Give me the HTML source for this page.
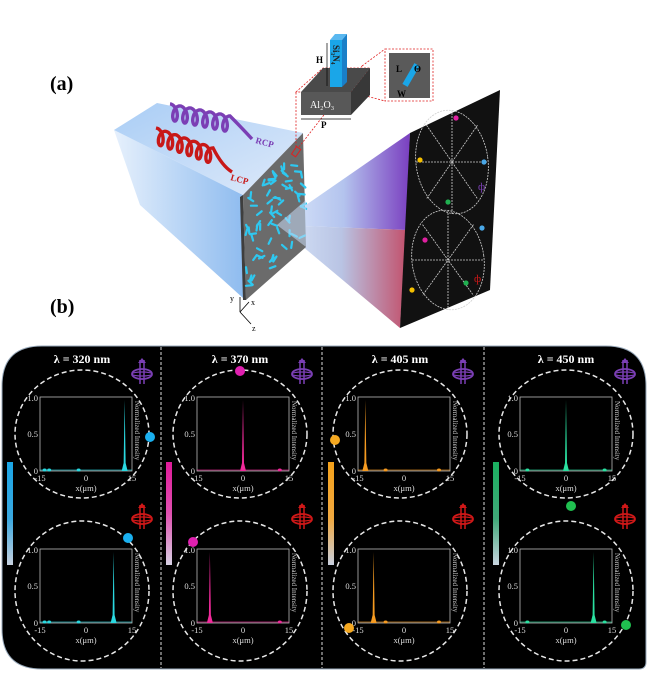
<!DOCTYPE html>
<html><head><meta charset="utf-8">
<style>
html,body{margin:0;padding:0;background:#fff;}
svg{display:block;font-family:"Liberation Serif",serif;}
</style></head>
<body>
<svg id="s" width="647" height="676" viewBox="0 0 647 676" xmlns="http://www.w3.org/2000/svg">
<defs>
<linearGradient id="blueL" x1="0" y1="0" x2="1" y2="0">
 <stop offset="0" stop-color="#e6f0fc"/><stop offset="1" stop-color="#8fbcef"/>
</linearGradient>
<linearGradient id="blueT" x1="0" y1="0" x2="1" y2="1">
 <stop offset="0" stop-color="#a9cdf5"/><stop offset="1" stop-color="#dfeafa"/>
</linearGradient>
<linearGradient id="beamT" x1="0" y1="0" x2="1" y2="0">
 <stop offset="0" stop-color="#dbe8fb"/><stop offset="0.5" stop-color="#b4c4ee"/><stop offset="1" stop-color="#7a3fc0"/>
</linearGradient>
<linearGradient id="beamB" x1="0" y1="0" x2="1" y2="0">
 <stop offset="0" stop-color="#d8e6fa"/><stop offset="0.5" stop-color="#b9c4e4"/><stop offset="1" stop-color="#c2536e"/>
</linearGradient>
<linearGradient id="bar1" x1="0" y1="0" x2="0" y2="1"><stop offset="0" stop-color="#1aa6e6"/><stop offset="0.55" stop-color="#3aa8e0"/><stop offset="1" stop-color="#c8d2e0"/></linearGradient>
<linearGradient id="bar2" x1="0" y1="0" x2="0" y2="1"><stop offset="0" stop-color="#e01a9a"/><stop offset="0.5" stop-color="#e050b0"/><stop offset="1" stop-color="#d8d2e4"/></linearGradient>
<linearGradient id="bar3" x1="0" y1="0" x2="0" y2="1"><stop offset="0" stop-color="#f5a21a"/><stop offset="0.55" stop-color="#f0a840"/><stop offset="1" stop-color="#c8d0e0"/></linearGradient>
<linearGradient id="bar4" x1="0" y1="0" x2="0" y2="1"><stop offset="0" stop-color="#1ab060"/><stop offset="0.55" stop-color="#40a878"/><stop offset="1" stop-color="#c8d4e0"/></linearGradient>
</defs>

<text x="50" y="90" font-size="20" font-weight="bold">(a)</text>
<text x="50" y="313" font-size="20" font-weight="bold">(b)</text>

<polygon points="114,130 140,205 243,298 243,195" fill="url(#blueL)"/>
<polygon points="114,130 157,103 303,133 243,195" fill="url(#blueT)"/>

<polygon points="277,225 410,133 406,230" fill="url(#beamT)"/>
<polygon points="277,225 406,230 400,328" fill="url(#beamB)"/>

<polygon points="243,195 303,133 306,247 246,300" fill="#6b6b6b"/>
<polygon points="240,197 243,195 246,300 243,300" fill="#3e3e3e"/>
<g id="rods" stroke="#2ec8f0" stroke-width="2.2" stroke-linecap="round"></g>
<polygon points="277,225 306,200 306,247" fill="#c9dcf7" opacity="0.55"/>
<rect x="294" y="147" width="5" height="9" fill="none" stroke="#e02020" stroke-width="1" transform="rotate(35 296 151)"/>

<path id="sp1" fill="none" stroke="#7b3fb5" stroke-width="3.4"/>
<path id="sp2" fill="none" stroke="#c81818" stroke-width="3.4"/>
<text x="255" y="143" font-size="9" font-weight="bold" fill="#7b3fb5" transform="rotate(15 255 143)">RCP</text>
<text x="230" y="180" font-size="9" font-weight="bold" fill="#c81818" transform="rotate(15 230 180)">LCP</text>

<g stroke="#000" stroke-width="0.8" fill="none">
<line x1="240" y1="297" x2="240" y2="312"/><line x1="240" y1="312" x2="249" y2="302"/><line x1="240" y1="312" x2="251" y2="324"/>
</g>
<text x="230" y="301" font-size="8">y</text><text x="251" y="305" font-size="8">x</text><text x="252" y="331" font-size="8">z</text>

<g stroke="#e02020" stroke-width="0.8" fill="none" stroke-dasharray="2,1.5">
<line x1="296" y1="147" x2="296" y2="92"/><line x1="299" y1="147" x2="362" y2="66"/>
<polygon points="296,92 323,68 370,68 351,92"/>
<line x1="362" y1="66" x2="385" y2="49"/><line x1="351" y1="92" x2="385" y2="101"/>
<rect x="385" y="49" width="48" height="52"/>
</g>
<polygon points="301,92 323,68 370,68 351,92" fill="#4a4a4a"/>
<polygon points="351,92 370,68 370,95 351,115" fill="#383838"/>
<rect x="301" y="92" width="50" height="23" fill="#585858"/>
<text x="310" y="108" font-size="10" fill="#fff">Al₂O₃</text>
<line x1="301" y1="119" x2="351" y2="119" stroke="#000" stroke-width="0.7"/>
<text x="321" y="128" font-size="9" font-weight="bold">P</text>
<polygon points="330,40 335,34 347,34 342,40" fill="#5ab8f0"/>
<polygon points="342,40 347,34 347,82 342,87" fill="#1a7fc8"/>
<rect x="330" y="40" width="12" height="47" fill="#1aa6e8"/>
<text x="333" y="45" font-size="9" font-weight="bold" fill="#222" transform="rotate(90 333 45)">Si₃N₄</text>
<line x1="327" y1="43" x2="327" y2="86" stroke="#000" stroke-width="0.7"/>
<text x="316" y="63" font-size="9" font-weight="bold">H</text>
<rect x="389" y="53" width="41" height="45" fill="#5a5a5a"/>
<rect x="408" y="63" width="6" height="24" fill="#1aa6e8" transform="rotate(30 411 75)"/>
<text x="396" y="72" font-size="9" font-weight="bold">L</text>
<text x="414" y="72" font-size="9" font-weight="bold">Θ</text>
<text x="397" y="97" font-size="9" font-weight="bold">W</text>

<polygon points="410,133 500,90 490,290 400,328" fill="#111"/>
<g id="scr" stroke="#d0d0d0" stroke-width="0.8" fill="none" stroke-dasharray="2,1"></g>

<path d="M42,346 L606,346 Q646,346 646,386 L646,662 Q646,669 639,669 L42,669 Q2,669 2,629 L2,386 Q2,346 42,346 Z" fill="#000" stroke="#9ab" stroke-width="1"/>
<g id="pb"></g>
</svg>
<script>
var NS="http://www.w3.org/2000/svg";
function el(p,t,a,txt){var e=document.createElementNS(NS,t);for(var k in a)e.setAttribute(k,a[k]);if(txt!==undefined)e.textContent=txt;p.appendChild(e);return e;}
var rods=document.getElementById('rods');
var seed=7;function rnd(){seed=(seed*9301+49297)%233280;return seed/233280;}
for(var i=0;i<70;i++){var u=rnd(),v=rnd();
 var x=246+u*58, ytop=195-(x-243)*62/60, ybot=300-(x-246)*53/60;
 var y=ytop+6+v*(ybot-ytop-12);
 var a=rnd()*Math.PI;var dx=Math.cos(a)*3,dy=Math.sin(a)*3;
 el(rods,'line',{x1:(x-dx).toFixed(1),y1:(y-dy).toFixed(1),x2:(x+dx).toFixed(1),y2:(y+dy).toFixed(1)});}
function spiral(id,x0,y0,n,len,slope,tail){var d='';var N=n*40;for(var t=0;t<=N;t++){var th=t/40*2*Math.PI;var s=t/40*len;var x=x0+s+4.5*Math.sin(th);var y=y0+s*slope-8*Math.cos(th)+8;d+=(t?'L':'M')+x.toFixed(1)+','+y.toFixed(1);}
 d+=' Q'+tail;document.getElementById(id).setAttribute('d',d);}
spiral('sp1',170,104,6,10,0.2,'240,126 252,139');
spiral('sp2',156,128,6,9.5,0.35,'222,166 232,172');
var scr=document.getElementById('scr');
function wheel(cx,cy,rx,ry,dots){el(scr,'ellipse',{cx:cx,cy:cy,rx:rx,ry:ry,transform:'rotate(-8 '+cx+' '+cy+')'});
 for(var k=0;k<4;k++){var a=k*Math.PI/4;el(scr,'line',{x1:cx-rx*Math.cos(a),y1:cy-ry*Math.sin(a),x2:cx+rx*Math.cos(a),y2:cy+ry*Math.sin(a)});}
 dots.forEach(function(d){el(document.getElementById('s'),'circle',{cx:d[0],cy:d[1],r:2.6,fill:d[2]});});}
wheel(452,162,36,52,[[456,118,'#e020a0'],[420,160,'#f5c000'],[484,162,'#4aa8e8'],[448,202,'#20b050']]);
wheel(448,260,36,50,[[425,240,'#e020a0'],[482,228,'#4aa8e8'],[412,290,'#f5c000'],[466,283,'#20b050']]);
el(document.getElementById('s'),'text',{x:478,y:190,'font-size':11,fill:'#7b3fb5'},'ф');
el(document.getElementById('s'),'text',{x:474,y:282,'font-size':11,fill:'#d01818'},'ф');
var pb=document.getElementById('pb');
[161,322,484].forEach(function(x){el(pb,'line',{x1:x,y1:347,x2:x,y2:668,stroke:'#ddd','stroke-width':1,'stroke-dasharray':'3,2'});});
var cols=[
 {cx:82,px:40,lam:'320',col:'#2ad8e0',dot:'#1ab0f0',bar:'bar1',bx:7,pk:[0.92,0.8],noise:[0.05,0.1,0.42],d1:[150,437],d2:[128,538],ix:142},
 {cx:240,px:197,lam:'370',col:'#f02a9a',dot:'#e020b0',bar:'bar2',bx:166,pk:[0.5,0.14],noise:[0.9],d1:[240,371],d2:[193,542],ix:302},
 {cx:400,px:358,lam:'405',col:'#f59a20',dot:'#f5a820',bar:'bar3',bx:328,pk:[0.08,0.17],noise:[0.3,0.88],d1:[335,440],d2:[349,628],ix:463},
 {cx:566,px:520,lam:'450',col:'#2ae0a0',dot:'#20c050',bar:'bar4',bx:493,pk:[0.5,0.8],noise:[0.08,0.92],d1:[571,506],d2:[626,625],ix:625}];
cols.forEach(function(c){
 el(pb,'text',{x:c.cx,y:363,'font-size':12,'font-weight':'bold',fill:'#fff','text-anchor':'middle'},'λ = '+c.lam+' nm');
 el(pb,'rect',{x:c.bx,y:462,width:6,height:103,fill:'url(#'+c.bar+')'});
 [[434,64,397,c.pk[0],c.d1,'#7b3fb5',370],[591,70,549,c.pk[1],c.d2,'#d01818',515]].forEach(function(r){
  el(pb,'ellipse',{cx:c.cx,cy:r[0],rx:67,ry:r[1],fill:'none',stroke:'#e8e8e8','stroke-width':1.5,'stroke-dasharray':'5,3'});
  var x0=c.px,y0=r[2],w=92,h=74;
  el(pb,'rect',{x:x0,y:y0,width:w,height:h,fill:'#000',stroke:'#bbb','stroke-width':0.8});
  var pxk=x0+r[3]*w;
  el(pb,'polygon',{points:(pxk-3)+','+(y0+h)+' '+(pxk-1)+','+(y0+h-8)+' '+pxk+','+(y0+3)+' '+(pxk+1)+','+(y0+h-8)+' '+(pxk+3)+','+(y0+h),fill:c.col});
  el(pb,'line',{x1:x0,y1:y0+h-1,x2:x0+w,y2:y0+h-1,stroke:c.col,'stroke-width':1,opacity:0.6});
  c.noise.forEach(function(n){el(pb,'ellipse',{cx:x0+n*w,cy:y0+h-1,rx:2,ry:1.5,fill:c.col});});
  var fs={'font-size':8.5,fill:'#ddd'};
  el(pb,'text',Object.assign({x:x0-2,y:y0+4,'text-anchor':'end'},fs),'1.0');
  el(pb,'text',Object.assign({x:x0-2,y:y0+h/2+3,'text-anchor':'end'},fs),'0.5');
  el(pb,'text',Object.assign({x:x0-2,y:y0+h+3,'text-anchor':'end'},fs),'0');
  el(pb,'text',Object.assign({x:x0,y:y0+h+10,'text-anchor':'middle'},fs),'-15');
  el(pb,'text',Object.assign({x:x0+w/2,y:y0+h+10,'text-anchor':'middle'},fs),'0');
  el(pb,'text',Object.assign({x:x0+w,y:y0+h+10,'text-anchor':'middle'},fs),'15');
  el(pb,'text',Object.assign({x:x0+w/2,y:y0+h+20,'text-anchor':'middle'},fs),'x(μm)');
  el(pb,'text',{x:x0+w+3,y:y0+4,'font-size':7,fill:'#ccc',transform:'rotate(90 '+(x0+w+3)+' '+(y0+4)+')'},'Normalized Intensity');
  el(pb,'circle',{cx:r[4][0],cy:r[4][1],r:5,fill:c.dot});
  var ix=c.ix,iy=r[6];
  el(pb,'ellipse',{cx:ix,cy:iy+4,rx:10,ry:5,fill:'none',stroke:r[5],'stroke-width':1.8});
  el(pb,'ellipse',{cx:ix,cy:iy+4,rx:10,ry:2,fill:'none',stroke:r[5],'stroke-width':1.2});
  el(pb,'line',{x1:ix-2,y1:iy-10,x2:ix-2,y2:iy+14,stroke:r[5],'stroke-width':1.5});
  el(pb,'line',{x1:ix+2,y1:iy-10,x2:ix+2,y2:iy+14,stroke:r[5],'stroke-width':1.5});
  el(pb,'polygon',{points:(ix-4)+','+(iy-7)+' '+(ix)+','+(iy-12)+' '+(ix+4)+','+(iy-7),fill:r[5]});
 });
});
</script>
</body></html>
